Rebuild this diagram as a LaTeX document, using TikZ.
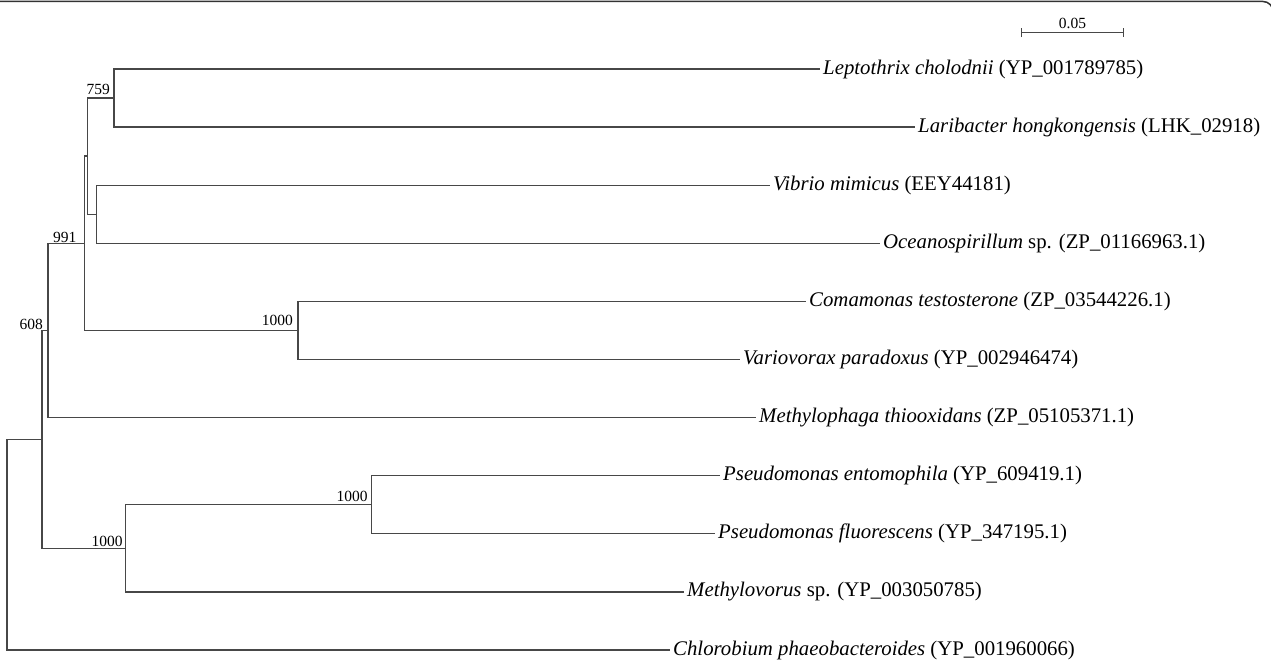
\documentclass[tikz,border=0pt]{standalone}
\usepackage{fontspec}
\setmainfont{Liberation Serif}
\usetikzlibrary{arrows.meta,calc}
\tikzset{
  branch/.style={draw=black!72, line width=1.3pt},
  leaf/.style={anchor=west, inner xsep=3pt, inner ysep=0pt, font=\fontsize{20.8}{24}\selectfont},
  boot/.style={anchor=base east, inner sep=0pt, font=\fontsize{15.5}{18}\selectfont},
}
\begin{document}
\begin{tikzpicture}[x=1pt,y=-1pt]
  \useasboundingbox (0,0) rectangle (1271,666);
  \draw[line width=1.5pt, black!80, rounded corners=10pt] (0,1.5) -- (1273,1.5) -- (1273,30);

  % internal nodes
  \coordinate (root) at (7,544.7);
  \coordinate (nA) at (42,439.4);
  \coordinate (n608) at (48,330.4);
  \coordinate (n991) at (84.5,243.3);
  \coordinate (nUp) at (87.5,156.1);
  \coordinate (n759) at (114,98);
  \coordinate (nVO) at (96.7,214.2);
  \coordinate (nCV) at (298,330.5);
  \coordinate (nPs) at (371.7,504.8);
  \coordinate (nMv) at (125.7,548.3);

  % leaves
  \node[leaf] (lepto)  at (820,69)    {\textit{Leptothrix cholodnii} (YP\_001789785)};
  \node[leaf] (lari)   at (915,127.1) {\textit{Laribacter hongkongensis} (LHK\_02918)};
  \node[leaf] (vibrio) at (770,185.2) {\textit{Vibrio mimicus} (EEY44181)};
  \node[leaf] (ocean)  at (880,243.3) {\textit{Oceanospirillum} sp. (ZP\_01166963.1)};
  \node[leaf] (coma)   at (806,301.4) {\textit{Comamonas testosterone} (ZP\_03544226.1)};
  \node[leaf] (vario)  at (740,359.5) {\textit{Variovorax paradoxus} (YP\_002946474)};
  \node[leaf] (mphaga) at (756,417.6) {\textit{Methylophaga thiooxidans} (ZP\_05105371.1)};
  \node[leaf] (pento)  at (720,475.7) {\textit{Pseudomonas entomophila} (YP\_609419.1)};
  \node[leaf] (pfluo)  at (715,533.8) {\textit{Pseudomonas fluorescens} (YP\_347195.1)};
  \node[leaf] (mvorus) at (684,591.9) {\textit{Methylovorus} sp. (YP\_003050785)};
  \node[leaf] (chloro) at (670,650)   {\textit{Chlorobium phaeobacteroides} (YP\_001960066)};

  % branches
  \draw[branch] (root) |- (nA) (root) |- (chloro.west);
  \draw[branch] (nA) |- (n608) (nA) |- (nMv);
  \draw[branch] (n608) |- (n991) (n608) |- (mphaga.west);
  \draw[branch] (n991) |- (nUp) (n991) |- (nCV);
  \draw[branch] (nUp) |- (n759) (nUp) |- (nVO);
  \draw[branch] (n759) |- (lepto.west) (n759) |- (lari.west);
  \draw[branch] (nVO) |- (vibrio.west) (nVO) |- (ocean.west);
  \draw[branch] (nCV) |- (coma.west) (nCV) |- (vario.west);
  \draw[branch] (nMv) |- (nPs) (nMv) |- (mvorus.west);
  \draw[branch] (nPs) |- (pento.west) (nPs) |- (pfluo.west);

  % bootstrap values
  \node[boot] (b759)  at ([xshift=-4pt,yshift=3pt]n759)  {759};
  \node[boot] (b991)  at ([xshift=-8pt,yshift=1pt]n991)  {991};
  \node[boot] (b608)  at ([xshift=-5pt,yshift=1pt]n608)  {608};
  \node[boot] (bCV)   at ([xshift=-5pt,yshift=5pt]nCV)   {1000};
  \node[boot] (bPs)   at ([xshift=-4pt,yshift=3pt]nPs)   {1000};
  \node[boot] (bMv)   at ([xshift=-3pt,yshift=2pt]nMv)   {1000};

  % scale bar
  \coordinate (sbl) at (1021,32.7);
  \coordinate (sbr) at (1124,32.7);
  \draw[branch, line width=1.1pt, {Bar[width=9pt]}-{Bar[width=9pt]}] (sbl) -- (sbr);
  \node[boot, anchor=base] (sblab) at ([yshift=4pt]$(sbl)!0.5!(sbr)$) {0.05};
\end{tikzpicture}
\end{document}
